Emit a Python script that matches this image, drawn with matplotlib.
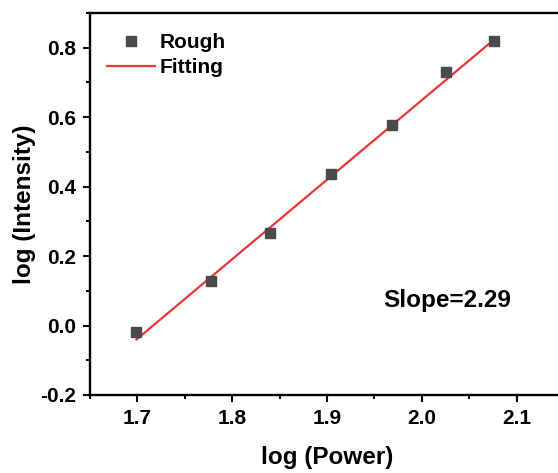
import numpy as np
import matplotlib
matplotlib.use("Agg")
import matplotlib.pyplot as plt
from matplotlib.ticker import MultipleLocator

# measured points (log10 power vs log10 intensity)
log_power = [1.699, 1.778, 1.840, 1.904, 1.969, 2.025, 2.076]
log_intensity = [-0.019, 0.127, 0.266, 0.435, 0.578, 0.729, 0.818]

# linear fit parameters
fit_slope = 2.29
fit_intercept = -3.931

plt.rcParams['font.family'] = ['Liberation Sans', 'DejaVu Sans']
plt.rcParams['font.weight'] = 'bold'
plt.rcParams['axes.unicode_minus'] = False

fig = plt.figure(figsize=(5.58, 4.73), dpi=100)
ax = fig.add_axes([90 / 558, 78 / 473, 474 / 558, 382 / 473])

x = np.array(log_power)
fit_x = np.array([x.min(), x.max()])
fit_y = fit_slope * fit_x + fit_intercept

ax.plot(log_power, log_intensity, 's', color='#4a4a4a', markersize=7.3, label='Rough', zorder=3)
ax.plot(fit_x, fit_y, '-', color='#ee3535', lw=1.6, label='Fitting', zorder=2)

ax.set_xlim(1.65, 2.15)
ax.set_ylim(-0.2, 0.9)
ax.xaxis.set_major_locator(MultipleLocator(0.1))
ax.xaxis.set_minor_locator(MultipleLocator(0.05))
ax.yaxis.set_major_locator(MultipleLocator(0.2))
ax.yaxis.set_minor_locator(MultipleLocator(0.1))
ax.xaxis.set_major_formatter(plt.FormatStrFormatter('%.1f'))
ax.yaxis.set_major_formatter(plt.FormatStrFormatter('%.1f'))

for s in ax.spines.values():
    s.set_linewidth(1.7)
ax.tick_params(which='major', direction='out', length=5, width=1.5, labelsize=15, pad=5)
ax.tick_params(which='minor', direction='out', length=3, width=1.5)
ax.tick_params(top=False, right=False, which='both')

ax.set_xlabel('log (Power)', fontsize=17.5, fontweight='bold', labelpad=13)
ax.set_ylabel('log (Intensity)', fontsize=17.5, fontweight='bold', labelpad=3)

ax.text(1.959, 0.072, 'Slope=2.29', fontsize=17.5, fontweight='bold', ha='left', va='center')

ax.legend(loc='upper left', bbox_to_anchor=(0.036, 0.948), frameon=False,
          handlelength=2.3, handletextpad=0.2, labelspacing=0.3, borderpad=0, borderaxespad=0,
          prop={'weight': 'bold', 'size': 15})

fig.savefig('out.png', dpi=100)
